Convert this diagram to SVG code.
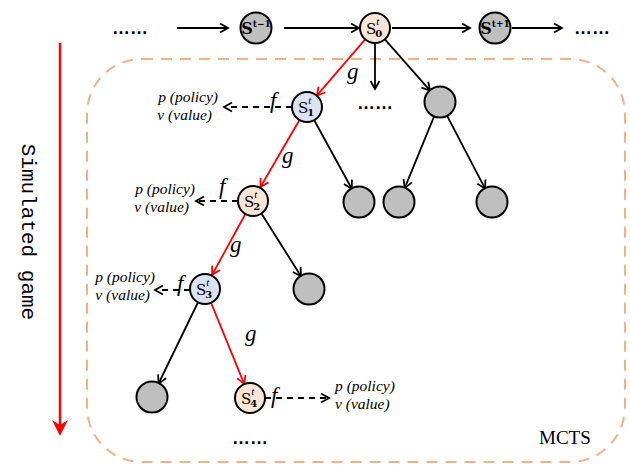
<svg xmlns="http://www.w3.org/2000/svg" width="630" height="466" viewBox="0 0 630 466">
<style>
.blk{stroke:#000;stroke-width:1.8;fill:none}
.red{stroke:#f00;stroke-width:1.8;fill:none}
.dash{stroke:#000;stroke-width:1.8;fill:none;stroke-dasharray:6 5}
.nd{stroke:#000;stroke-width:2}
.gray{fill:#bfbfbf}
.peach{fill:#fbe5d6}
.blue{fill:#dae3f3}
.lab{font-family:"DejaVu Serif",serif;font-size:15px;fill:#000}
.sup{font-family:"Liberation Serif",serif;font-style:italic;font-size:11px}
.sub{font-family:"DejaVu Serif",serif;font-weight:bold;font-size:10px}
.pv{font-family:"Liberation Serif",serif;font-style:italic;font-size:15.5px;fill:#000}
.fg{font-family:"Liberation Serif",serif;font-style:italic;font-size:23px;fill:#000}
.dots{font-family:"Liberation Sans",sans-serif;font-size:18px;font-weight:bold;fill:#000}
</style>
<defs>
<marker id="ab" markerUnits="userSpaceOnUse" markerWidth="12" markerHeight="12" viewBox="0 0 12 12" refX="10" refY="6" orient="auto">
<path d="M2,1.5 L10,6 L2,10.5" fill="none" stroke="#000" stroke-width="1.8"/>
</marker>
<marker id="ar" markerUnits="userSpaceOnUse" markerWidth="12" markerHeight="12" viewBox="0 0 12 12" refX="10" refY="6" orient="auto">
<path d="M2,1.5 L10,6 L2,10.5" fill="none" stroke="#f00" stroke-width="1.8"/>
</marker>
</defs>

<rect id="mcts-box" x="87" y="59" width="538" height="403" rx="55" ry="55" fill="none" stroke="#f4b183" stroke-width="2" stroke-dasharray="11 8"/>
<text x="539" y="444" font-family="Liberation Serif,serif" font-size="19" fill="#000">MCTS</text>

<g id="sim-game">
<line x1="60" y1="43" x2="60" y2="433" stroke="#f00" stroke-width="2.5"/>
<path d="M52,420 L60,436 L68,420 L60,425 Z" fill="#f00"/>
<text transform="translate(22,232) rotate(90)" text-anchor="middle" font-family="Liberation Mono,monospace" font-size="21" fill="#000">Simulated game</text>
</g>

<g id="connectors">
<line class="blk" x1="177" y1="28" x2="228" y2="28" marker-end="url(#ab)"/>
<line class="blk" x1="284" y1="28" x2="359" y2="28" marker-end="url(#ab)"/>
<line class="blk" x1="392" y1="28" x2="470" y2="28" marker-end="url(#ab)"/>
<line class="blk" x1="512" y1="28" x2="562" y2="28" marker-end="url(#ab)"/>
<line class="red" x1="365.2" y1="39.4" x2="316.8" y2="95.6" marker-end="url(#ar)"/>
<line class="blk" x1="375" y1="43" x2="375" y2="89" marker-end="url(#ab)"/>
<line class="blk" x1="384.9" y1="39.3" x2="430.1" y2="90.7" marker-end="url(#ab)"/>
<line class="blk" x1="314.2" y1="120.2" x2="351.8" y2="188.8" marker-end="url(#ab)"/>
<line class="blk" x1="434.3" y1="115.9" x2="404.7" y2="188.1" marker-end="url(#ab)"/>
<line class="blk" x1="446.9" y1="115.3" x2="485.1" y2="188.7" marker-end="url(#ab)"/>
<line class="red" x1="299.5" y1="120" x2="260.5" y2="187" marker-end="url(#ar)"/>
<line class="blk" x1="261" y1="212.7" x2="301" y2="276.3" marker-end="url(#ab)"/>
<line class="red" x1="245.8" y1="213.2" x2="212.2" y2="274.8" marker-end="url(#ar)"/>
<line class="red" x1="210.7" y1="301.9" x2="244.3" y2="384.1" marker-end="url(#ar)"/>
<line class="blk" x1="198.4" y1="301.5" x2="158.6" y2="383.5" marker-end="url(#ab)"/>
<line class="dash" x1="292" y1="107" x2="224" y2="107" marker-end="url(#ab)"/>
<line class="dash" x1="238" y1="201" x2="196" y2="201" marker-end="url(#ab)"/>
<line class="dash" x1="190" y1="290" x2="155" y2="290" marker-end="url(#ab)"/>
<line class="dash" x1="265" y1="398" x2="329" y2="398" marker-end="url(#ab)"/>
<text class="fg" x="347" y="79">g</text>
<text class="fg" x="282" y="163">g</text>
<text class="fg" x="230" y="252">g</text>
<text class="fg" x="245" y="341">g</text>
<text class="fg" x="270" y="108">f</text>
<text class="fg" x="219" y="194">f</text>
<text class="fg" x="177" y="291">f</text>
<text class="fg" x="271" y="403">f</text>
</g>

<text class="dots" x="112" y="34">……</text>
<text class="dots" x="574" y="34">……</text>
<text class="dots" x="357" y="109">……</text>
<text class="dots" x="232" y="444">……</text>

<g id="s-prev"><circle class="nd gray" cx="256" cy="28" r="15.5"/><text x="256" y="34" text-anchor="middle" font-family="DejaVu Serif,serif" font-weight="bold" font-size="16">S<tspan font-size="9" dy="-7">t−1</tspan></text></g>
<g id="s0"><circle class="nd peach" cx="375" cy="28" r="15"/><text class="lab" x="366" y="34">S<tspan class="sup" dy="-9">t</tspan><tspan class="sub" dx="-4" dy="12">0</tspan></text></g>
<g id="s-next"><circle class="nd gray" cx="495" cy="28" r="15.5"/><text x="495" y="34" text-anchor="middle" font-family="DejaVu Serif,serif" font-weight="bold" font-size="16">S<tspan font-size="9" dy="-7">t+1</tspan></text></g>

<g id="s1"><circle class="nd blue" cx="307" cy="107" r="15"/><text class="lab" x="298" y="113">S<tspan class="sup" dy="-9">t</tspan><tspan class="sub" dx="-4" dy="12">1</tspan></text></g>
<g id="s2"><circle class="nd peach" cx="253" cy="201" r="15"/><text class="lab" x="244" y="207">S<tspan class="sup" dy="-9">t</tspan><tspan class="sub" dx="-4" dy="12">2</tspan></text></g>
<g id="s3"><circle class="nd blue" cx="205" cy="289" r="15"/><text class="lab" x="196" y="295">S<tspan class="sup" dy="-9">t</tspan><tspan class="sub" dx="-4" dy="12">3</tspan></text></g>
<g id="s4"><circle class="nd peach" cx="250" cy="398" r="15"/><text class="lab" x="241" y="404">S<tspan class="sup" dy="-9">t</tspan><tspan class="sub" dx="-4" dy="12">4</tspan></text></g>

<g id="g1"><circle class="nd gray" cx="440" cy="102" r="15.5"/></g>
<g id="g2"><circle class="nd gray" cx="359" cy="202" r="15.5"/></g>
<g id="g3"><circle class="nd gray" cx="399" cy="202" r="15.5"/></g>
<g id="g4"><circle class="nd gray" cx="492" cy="202" r="15.5"/></g>
<g id="g5"><circle class="nd gray" cx="309" cy="289" r="15.5"/></g>
<g id="g6"><circle class="nd gray" cx="152" cy="397" r="15.5"/></g>

<g id="pv1"><text class="pv" x="218" y="102" text-anchor="end">p (policy)</text><text class="pv" x="212" y="120" text-anchor="end">v (value)</text></g>
<g id="pv2"><text class="pv" x="195" y="194" text-anchor="end">p (policy)</text><text class="pv" x="189" y="212" text-anchor="end">v (value)</text></g>
<g id="pv3"><text class="pv" x="155" y="282" text-anchor="end">p (policy)</text><text class="pv" x="150" y="300" text-anchor="end">v (value)</text></g>
<g id="pv4"><text class="pv" x="335" y="391">p (policy)</text><text class="pv" x="335" y="409">v (value)</text></g>
</svg>
